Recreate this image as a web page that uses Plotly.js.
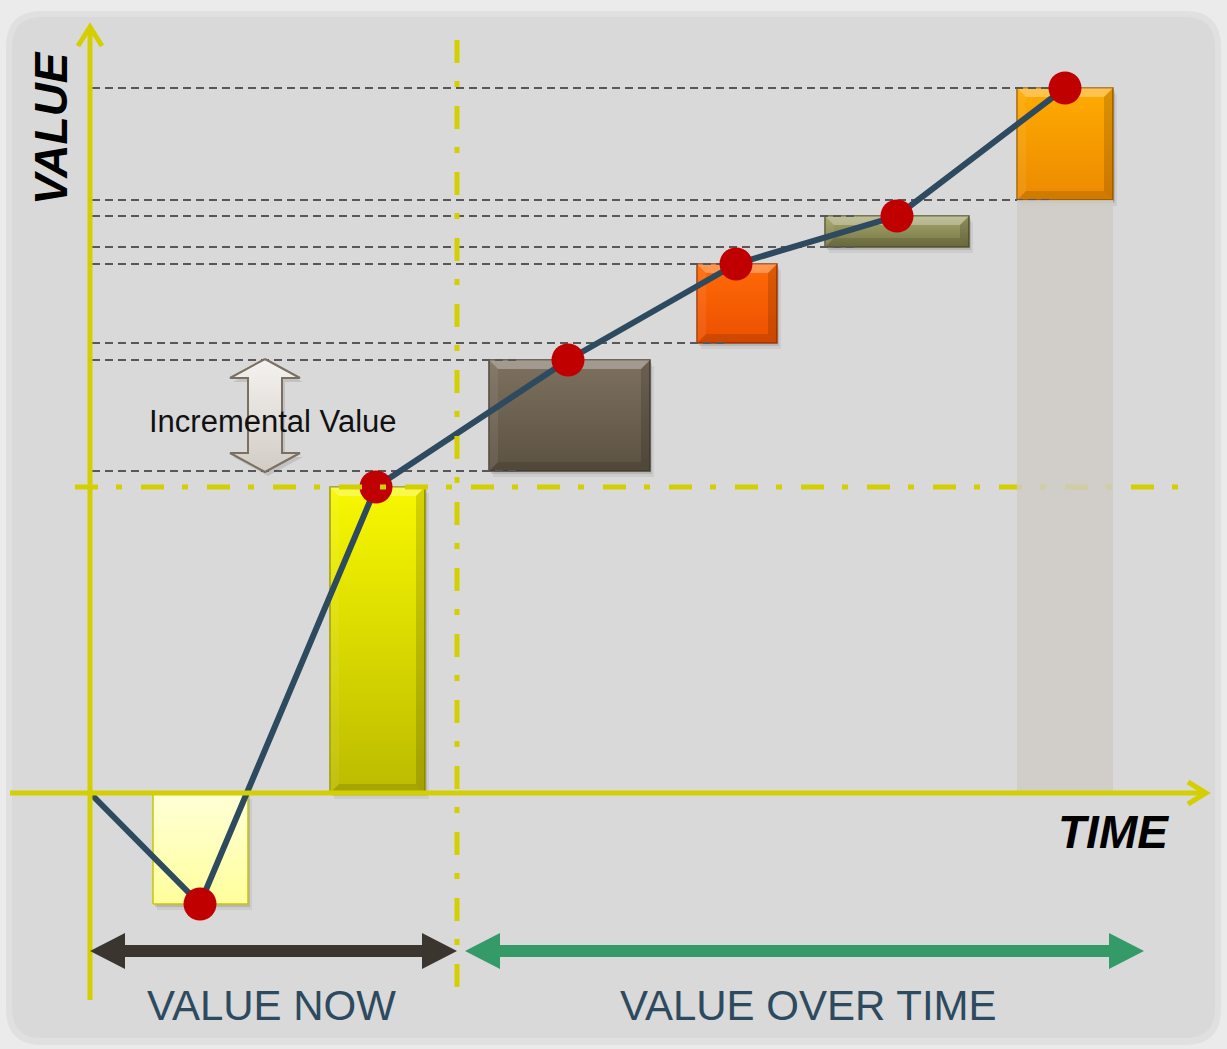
<!DOCTYPE html>
<html><head><meta charset="utf-8">
<script src="https://cdn.plot.ly/plotly-3.0.1.min.js"></script>
<style>html,body{margin:0;padding:0;background:#ebebeb;}#chart{width:1227px;height:1049px;}</style>
</head><body><div id="chart"></div>
<script>
// ---- data (value units; time units) ----
const stepNames = ['Investment', 'Value now', 'Period 1', 'Period 2', 'Period 3', 'Period 4'];
const stepTime  = [200.5, 377.5, 569.5, 737, 897, 1065];
const stepSpan  = [95, 95, 161, 80, 144, 96];
const stepBase  = [0, 0, 322, 450, 546, 593];
const stepEnd   = [-111, 306, 433, 529, 577, 705];
const pathTime  = [90, 200, 376, 568, 736, 897, 1065];
const pathValue = [0, -111, 306, 433, 529, 577, 705];
const supportBase = 0;
const nowBoundary = 457;
const nowLevel = 306;
const phaseLabels = ['VALUE NOW', 'VALUE OVER TIME'];
const axisLabels = ['VALUE', 'TIME'];
const incrementLabel = 'Incremental Value';

// ---- styles ----
const topColors    = ['#ffffd8', '#f8f800', '#7d705f', '#ff6a08', '#a4a46c', '#ffab00'];
const bottomColors = ['#ffff9c', '#bcbb00', '#5c5242', '#ec5000', '#787846', '#ec8a00'];
const borderColors = ['#c9c600', '#9a9800', '#4a4234', '#a83a00', '#5a5a30', '#a86400'];
const AX = '#d3cf00';
const FONT = 'Liberation Sans, Arial, sans-serif';

const traces = [];
function rect(x0, x1, y0, y1) { return {x: [x0, x1, x1, x0, x0], y: [y0, y0, y1, y1, y0]}; }
function poly(pts, fill, extra) {
  const t = Object.assign({type: 'scatter', mode: 'lines', x: pts.map(p => p[0]), y: pts.map(p => p[1]),
    fill: 'toself', fillcolor: fill, line: {width: 0, color: 'rgba(0,0,0,0)'}, hoverinfo: 'skip', showlegend: false}, extra || {});
  traces.push(t);
}

// bars
stepTime.forEach((t, i) => {
  const x0 = t - stepSpan[i] / 2, x1 = t + stepSpan[i] / 2;
  const lo = Math.min(stepBase[i], stepEnd[i]), hi = Math.max(stepBase[i], stepEnd[i]);
  [[2, 3, 'rgba(0,0,0,0.10)'], [4, 6, 'rgba(0,0,0,0.06)']].forEach(s => {
    const r = rect(x0 + s[0], x1 + s[0], lo - s[1], hi - s[1]);
    poly(r.x.map((v, k) => [v, r.y[k]]), s[2]);
  });
  const r = rect(x0, x1, lo, hi);
  traces.push({type: 'scatter', mode: 'lines', x: r.x, y: r.y, fill: 'toself',
    fillgradient: {type: 'vertical', colorscale: [[0, bottomColors[i]], [1, topColors[i]]]},
    line: {color: borderColors[i], width: 1.5}, hoverinfo: 'skip', showlegend: false, name: stepNames[i]});
  if (stepEnd[i] > stepBase[i]) {
    const b = Math.min(9, (hi - lo) / 2.5);
    poly([[x0, hi], [x1, hi], [x1 - b, hi - b], [x0 + b, hi - b]], 'rgba(255,255,255,0.30)');
    poly([[x0, lo], [x1, lo], [x1 - b, lo + b], [x0 + b, lo + b]], 'rgba(0,0,0,0.12)');
    poly([[x0, lo], [x0, hi], [x0 + b, hi - b], [x0 + b, lo + b]], 'rgba(255,255,255,0.07)');
    poly([[x1, lo], [x1, hi], [x1 - b, hi - b], [x1 - b, lo + b]], 'rgba(0,0,0,0.14)');
  }
});

// guide lines (dashed) from value axis to each later bar
const gx = [], gy = [];
for (let i = 2; i < stepTime.length; i++) {
  const left = stepTime[i] - stepSpan[i] / 2;
  [stepEnd[i], stepBase[i]].forEach(v => { gx.push(92, left + 32, null); gy.push(v, v, null); });
}
traces.push({type: 'scatter', mode: 'lines', x: gx, y: gy, line: {color: '#585858', width: 2, dash: '8px,5px'},
  hoverinfo: 'skip', showlegend: false, connectgaps: false});

// increment arrow
(function () {
  const cx = 265, top = stepEnd[2] + 1, bot = stepBase[2] - 1, hh = 19, hw = 35, sw = 17;
  const pts = [[cx, top], [cx + hw, top - hh], [cx + sw, top - hh], [cx + sw, bot + hh], [cx + hw, bot + hh], [cx, bot],
    [cx - hw, bot + hh], [cx - sw, bot + hh], [cx - sw, top - hh], [cx - hw, top - hh], [cx, top]];
  poly(pts.map(p => [p[0] + 3, p[1] - 4]), 'rgba(0,0,0,0.10)');
  traces.push({type: 'scatter', mode: 'lines', x: pts.map(p => p[0]), y: pts.map(p => p[1]), fill: 'toself',
    fillgradient: {type: 'vertical', colorscale: [[0, '#d2ccc5'], [1, '#f4f2f0']]},
    line: {color: '#7a7062', width: 2}, hoverinfo: 'skip', showlegend: false});
})();

// cumulative value line
traces.push({type: 'scatter', mode: 'lines', x: pathTime, y: pathValue, line: {color: '#2d4a5f', width: 6},
  hoverinfo: 'skip', showlegend: false});
traces.push({type: 'scatter', mode: 'markers', x: pathTime.slice(1), y: pathValue.slice(1),
  marker: {size: 33, color: '#c00000', line: {width: 0}}, hoverinfo: 'skip', showlegend: false});

// dash-dot reference lines
traces.push({type: 'scatter', mode: 'lines', x: [75, 1180], y: [nowLevel, nowLevel],
  line: {color: AX, width: 5, dash: '23px,18px,6px,19px'}, hoverinfo: 'skip', showlegend: false});
traces.push({type: 'scatter', mode: 'lines', x: [nowBoundary, nowBoundary], y: [753, -197],
  line: {color: AX, width: 5, dash: '23px,18px,6px,19px'}, hoverinfo: 'skip', showlegend: false});

// support column under last step (semi transparent)
(function () {
  const i = stepTime.length - 1;
  const r = rect(stepTime[i] - stepSpan[i] / 2, stepTime[i] + stepSpan[i] / 2, supportBase, stepBase[i]);
  traces.push({type: 'scatter', mode: 'lines', x: r.x, y: r.y, fill: 'toself', fillcolor: 'rgba(208,204,198,0.82)',
    line: {width: 0, color: 'rgba(0,0,0,0)'}, hoverinfo: 'skip', showlegend: false});
})();

// ---- shapes ----
function roundRect(x0, y0, x1, y1, r) {
  return `M${x0 + r},${y1} L${x1 - r},${y1} Q${x1},${y1} ${x1},${y1 - r} L${x1},${y0 + r} Q${x1},${y0} ${x1 - r},${y0} ` +
    `L${x0 + r},${y0} Q${x0},${y0} ${x0},${y0 + r} L${x0},${y1 - r} Q${x0},${y1} ${x0 + r},${y1} Z`;
}
function dblArrow(xa, xb, yc, col) {
  const hl = 35, hh = 18, sh = 6;
  const p = [[xa, yc], [xa + hl, yc + hh], [xa + hl, yc + sh], [xb - hl, yc + sh], [xb - hl, yc + hh], [xb, yc],
    [xb - hl, yc - hh], [xb - hl, yc - sh], [xa + hl, yc - sh], [xa + hl, yc - hh]];
  return {type: 'path', xref: 'x', yref: 'y', layer: 'above', path: 'M' + p.map(q => q[0] + ',' + q[1]).join(' L') + ' Z',
    fillcolor: col, line: {width: 0}};
}
const shapes = [
  {type: 'path', xref: 'x', yref: 'y', layer: 'below', path: roundRect(6, -252, 1221, 782, 36),
    fillcolor: '#e0e0e0', line: {width: 0}},
  {type: 'path', xref: 'x', yref: 'y', layer: 'below', path: roundRect(12, -245, 1215, 776, 30),
    fillcolor: '#d9d9d9', line: {width: 0}},
  {type: 'line', xref: 'x', yref: 'y', layer: 'above', x0: 90, x1: 90, y0: -207, y1: 766, line: {color: AX, width: 5}},
  {type: 'path', xref: 'x', yref: 'y', layer: 'above', path: 'M78,747 L90,766 L102,747', line: {color: AX, width: 5}},
  {type: 'line', xref: 'x', yref: 'y', layer: 'above', x0: 10, x1: 1205, y0: 0, y1: 0, line: {color: AX, width: 5}},
  {type: 'path', xref: 'x', yref: 'y', layer: 'above', path: 'M1188,11 L1206,0 L1188,-11', line: {color: AX, width: 5}},
  dblArrow(90, nowBoundary, -158, '#3a352f'),
  dblArrow(465, 1144, -158, '#349a68')
];

const annotations = [
  {x: 273, y: 372, xref: 'x', yref: 'y', text: incrementLabel, showarrow: false, font: {family: FONT, size: 31, color: '#111111'}},
  {x: 51, y: 665, xref: 'x', yref: 'y', text: '<b><i>' + axisLabels[0] + '</i></b>', textangle: -90, showarrow: false,
    font: {family: FONT, size: 46, color: '#000000'}},
  {x: 1113, y: -39, xref: 'x', yref: 'y', text: '<b><i>' + axisLabels[1] + '</i></b>', showarrow: false,
    font: {family: FONT, size: 46, color: '#000000'}},
  {x: 271, y: -212, xref: 'x', yref: 'y', text: phaseLabels[0], showarrow: false, font: {family: FONT, size: 42, color: '#2d4a5f'}},
  {x: 808, y: -212, xref: 'x', yref: 'y', text: phaseLabels[1], showarrow: false, font: {family: FONT, size: 42, color: '#2d4a5f'}}
];

const layout = {
  width: 1227, height: 1049, margin: {l: 0, r: 0, t: 0, b: 0, pad: 0},
  paper_bgcolor: '#ebebeb', plot_bgcolor: 'rgba(0,0,0,0)', showlegend: false,
  xaxis: {range: [0, 1227], visible: false, fixedrange: true},
  yaxis: {range: [-256, 793], visible: false, fixedrange: true},
  shapes: shapes, annotations: annotations
};
Plotly.newPlot('chart', traces, layout, {displayModeBar: false, staticPlot: true});
</script></body></html>
